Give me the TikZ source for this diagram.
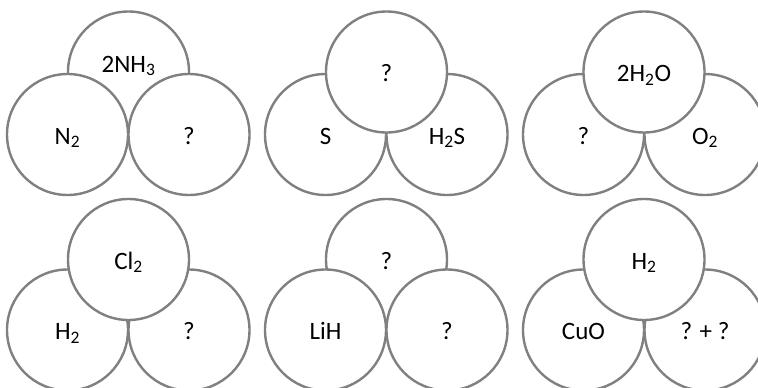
\documentclass[tikz,border=0pt]{standalone}
\usepackage{fontspec}
\setmainfont{Carlito}
\definecolor{ringgray}{RGB}{128,128,128}
\tikzset{
  ball/.style={circle, draw=ringgray, line width=2.4pt, fill=white, minimum size=121pt, inner sep=0pt},
  lbl/.style={anchor=base, inner sep=0pt, font=\fontsize{25}{30}\selectfont, text=black}
}
\begin{document}
\begin{tikzpicture}[x=1pt,y=-1pt]
\useasboundingbox (0,0) rectangle (758,388);
\clip (0,0) rectangle (758,388);
% ---------- group 1 (top behind) ----------
\node[ball] (a1t) at (128.5,72) {};
\node[ball] (a1l) at (67.5,134.5) {};
\node[ball] (a1r) at (189,134.5) {};
\node[lbl] (a1tx) at (a1t.center) {2NH\textsubscript{3}};
\node[lbl] (a1lx) at ([yshift=-9.5pt]a1l.center) {N\textsubscript{2}};
\node[lbl] (a1rx) at ([yshift=-9.5pt]a1r.center) {?};
% ---------- group 2 (top in front) ----------
\node[ball] (a2l) at (325.5,134.5) {};
\node[ball] (a2r) at (447,134.5) {};
\node[ball] (a2t) at (386.5,72) {};
\node[lbl] (a2tx) at ([yshift=-9.5pt]a2t.center) {?};
\node[lbl] (a2lx) at ([yshift=-9.5pt]a2l.center) {S};
\node[lbl] (a2rx) at ([yshift=-9.5pt]a2r.center) {H\textsubscript{2}S};
% ---------- group 3 (top in front) ----------
\node[ball] (a3l) at (583.5,134.5) {};
\node[ball] (a3r) at (705,134.5) {};
\node[ball] (a3t) at (644,72) {};
\node[lbl] (a3tx) at ([yshift=-9.5pt]a3t.center) {2H\textsubscript{2}O};
\node[lbl] (a3lx) at ([yshift=-9.5pt]a3l.center) {?};
\node[lbl] (a3rx) at ([yshift=-9.5pt]a3r.center) {O\textsubscript{2}};
% ---------- group 4 (top in front) ----------
\node[ball] (b1l) at (67.5,330) {};
\node[ball] (b1r) at (189,330) {};
\node[ball] (b1t) at (128.5,259.5) {};
\node[lbl] (b1tx) at ([yshift=-9.5pt]b1t.center) {Cl\textsubscript{2}};
\node[lbl] (b1lx) at ([yshift=-9.5pt]b1l.center) {H\textsubscript{2}};
\node[lbl] (b1rx) at ([yshift=-9.5pt]b1r.center) {?};
% ---------- group 5 (top behind) ----------
\node[ball] (b2t) at (386.5,259.5) {};
\node[ball] (b2l) at (325.5,330) {};
\node[ball] (b2r) at (447,330) {};
\node[lbl] (b2tx) at ([yshift=-9.5pt]b2t.center) {?};
\node[lbl] (b2lx) at ([yshift=-9.5pt]b2l.center) {LiH};
\node[lbl] (b2rx) at ([yshift=-9.5pt]b2r.center) {?};
% ---------- group 6 (top in front) ----------
\node[ball] (b3l) at (583.5,330) {};
\node[ball] (b3r) at (705,330) {};
\node[ball] (b3t) at (644,259.5) {};
\node[lbl] (b3tx) at ([yshift=-9.5pt]b3t.center) {H\textsubscript{2}};
\node[lbl] (b3lx) at ([yshift=-9.5pt]b3l.center) {CuO};
\node[lbl] (b3rx) at ([yshift=-9.5pt]b3r.center) {? + ?};
\end{tikzpicture}
\end{document}
